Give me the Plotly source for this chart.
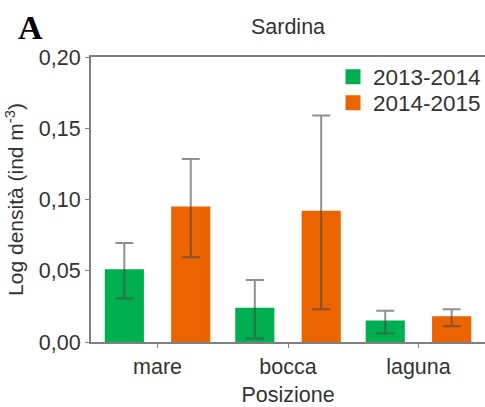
import plotly.graph_objects as go

categories = ["mare", "bocca", "laguna"]
series_names = ["2013-2014", "2014-2015"]
values_2013 = [0.050, 0.023, 0.014]
values_2014 = [0.094, 0.091, 0.017]
err_2013 = [0.0195, 0.0205, 0.008]
err_2014 = [0.0345, 0.068, 0.006]
y_ticks = [0.0, 0.05, 0.10, 0.15, 0.20]

GREEN = "#00AF50"
ORANGE = "#EB6400"
ERR = "rgba(70,70,70,0.6)"
FONT = "Liberation Sans, Arial, sans-serif"
TXT = "#333333"

fig = go.Figure()
fig.add_trace(go.Bar(
    x=categories, y=values_2013, name=series_names[0], legend="legend",
    showlegend=True,
    marker=dict(color=GREEN, line=dict(width=3, color=GREEN)),
    width=0.277, offset=-0.393,
    error_y=dict(type="data", array=err_2013, color=ERR, thickness=2, width=9),
))
fig.add_trace(go.Bar(
    x=categories, y=values_2014, name=series_names[1], legend="legend2",
    showlegend=True,
    marker=dict(color=ORANGE, line=dict(width=3, color=ORANGE)),
    width=0.277, offset=0.116,
    error_y=dict(type="data", array=err_2014, color=ERR, thickness=2, width=9),
))

leg_common = dict(xanchor="left", yanchor="middle", xref="container", yref="container",
                  bgcolor="rgba(0,0,0,0)",
                  font=dict(size=22.5, color=TXT), itemclick=False, visible=True)

fig.update_layout(
    width=485, height=407,
    margin=dict(l=91, r=0, t=57, b=65, pad=0, autoexpand=False),
    paper_bgcolor="white", plot_bgcolor="white",
    barmode="overlay",
    showlegend=True,
    separators=",.",
    font=dict(family=FONT, size=21, color=TXT),
    title=dict(text="Sardina", x=0.5, xanchor="center", xref="paper",
               y=1 - 26 / 407, yanchor="middle", yref="container",
               font=dict(size=21.5, color=TXT)),
    legend=dict(x=333 / 485, y=1 - 77 / 407, **leg_common),
    legend2=dict(x=333 / 485, y=1 - 103 / 407, **leg_common),
    xaxis=dict(type="category", range=[-0.51, 2.51],
               showline=True, linecolor="#808080", linewidth=2, mirror=True,
               ticks="outside", ticklen=4, tickwidth=1, tickcolor="#808080",
               showgrid=False, zeroline=False,
               tickfont=dict(size=21.5, color=TXT),
               title=dict(text="Posizione", standoff=14, font=dict(size=21.5, color=TXT))),
    yaxis=dict(range=[0, 0.20], tickvals=y_ticks, tickformat=".2f",
               showline=True, linecolor="#808080", linewidth=2,
               ticks="outside", ticklen=4, tickwidth=1, tickcolor="#808080",
               showgrid=False, zeroline=False,
               tickfont=dict(size=21.5, color=TXT),
               title=dict(text="Log densità (ind m<sup>-3</sup>)", standoff=9,
                          font=dict(size=21, color=TXT))),
)

fig.add_annotation(text="<b>A</b>", xref="paper", yref="paper",
                   x=-91 / 394 + 30 / 394, y=1 + (57 - 27) / 285,
                   xanchor="center", yanchor="middle", showarrow=False,
                   font=dict(family="Liberation Serif, Times New Roman, serif",
                             size=34, color="#000000"))

fig.write_html("out.html")
